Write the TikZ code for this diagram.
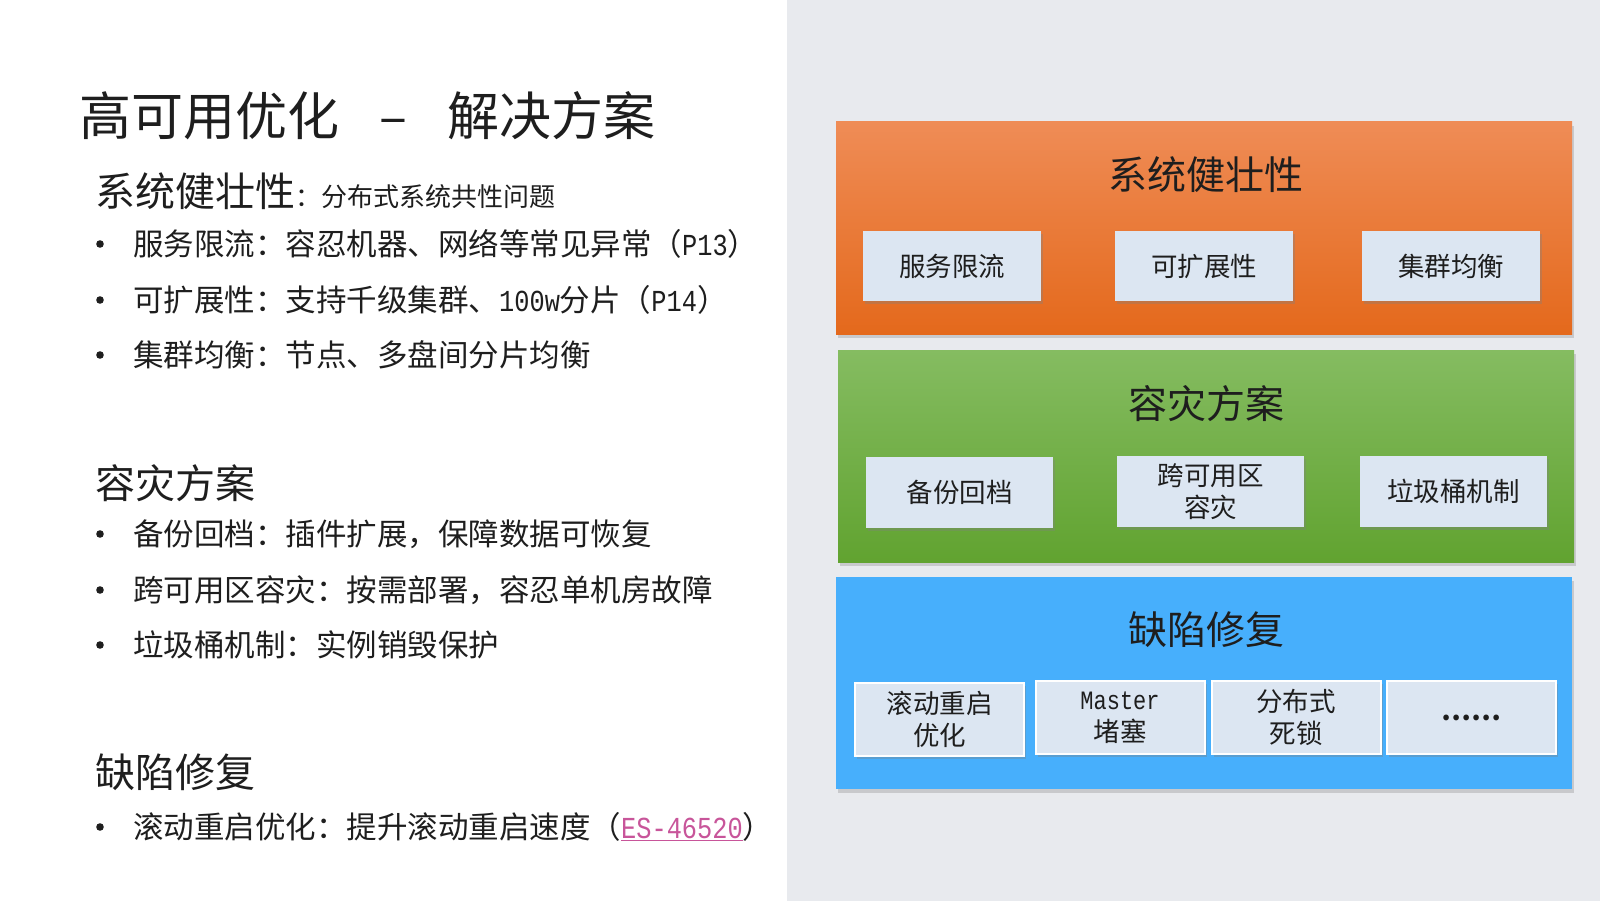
\documentclass[tikz,border=0pt]{standalone}
\usepackage{fontspec}
\setmainfont{Noto Sans CJK SC}
\newfontfamily\lat[FakeStretch=0.83]{Liberation Mono}
\usetikzlibrary{shadows}
\definecolor{bgR}{HTML}{E8EAEE}
\definecolor{orT}{HTML}{EF8C56}
\definecolor{orB}{HTML}{E4691C}
\definecolor{grT}{HTML}{85BC61}
\definecolor{grB}{HTML}{61A330}
\definecolor{blu}{HTML}{47AFFC}
\definecolor{boxF}{HTML}{DCE6F2}
\definecolor{txt}{HTML}{1E1E1E}
\definecolor{lnk}{HTML}{C8559A}
\tikzset{
  panel/.style={draw=none, minimum width=736pt, minimum height=212pt, inner sep=0pt,
    drop shadow={opacity=0.3, shadow xshift=2pt, shadow yshift=-4pt}},
  ptitle/.style={text=txt, font=\fontsize{39}{44}\selectfont, inner sep=0pt},
  sbox/.style={fill=boxF, inner sep=0pt, align=center, text=txt,
    font=\fontsize{26.5}{32}\selectfont,
    drop shadow={opacity=0.35, shadow xshift=2pt, shadow yshift=-3pt}},
  wbox/.style={sbox, draw=white, line width=2pt},
  head/.style={anchor=west, inner sep=0pt, text=txt, font=\fontsize{40}{48}\selectfont},
  item/.style={anchor=west, inner sep=0pt, text=txt, font=\fontsize{30.5}{36}\selectfont},
  bul/.style={fill=txt, draw=none}
}
\begin{document}
\begin{tikzpicture}[x=1pt,y=-1pt]
\useasboundingbox (0,0) rectangle (1600,901);
\fill[white] (0,0) rectangle (787,901);
\fill[bgR] (787,0) rectangle (1600,901);

% left text
\node[anchor=west, inner sep=0pt, text=txt, font=\fontsize{52}{60}\selectfont] (title) at (79,116)
  {高可用优化\hspace{40pt}–\hspace{40pt}解决方案};

\node[head] (h1) at (95,191) {系统健壮性{\fontsize{26}{30}\selectfont ：分布式系统共性问题}};
\node[item] (b1) at (133,244) {服务限流：容忍机器、网络等常见异常（{\lat P13}）};
\node[item] (b2) at (133,300) {可扩展性：支持千级集群、{\lat 100w}分片（{\lat P14}）};
\node[item] (b3) at (133,355) {集群均衡：节点、多盘间分片均衡};

\node[head] (h2) at (95,483) {容灾方案};
\node[item] (b4) at (133,534) {备份回档：插件扩展，保障数据可恢复};
\node[item] (b5) at (133,590) {跨可用区容灾：按需部署，容忍单机房故障};
\node[item] (b6) at (133,645) {垃圾桶机制：实例销毁保护};

\node[head] (h3) at (95,772) {缺陷修复};
\node[item] (b7) at (133,827) {滚动重启优化：提升滚动重启速度（\textcolor{lnk}{\underline{\lat ES-46520}}）};

\foreach \yy in {244,300,355,534,590,645,827}
  \fill[bul] (100,\yy) circle (3.8);

% right panels
\node[panel, top color=orT, bottom color=orB] (p1) at (1204,228) {};
\node[panel, top color=grT, bottom color=grB] (p2) at (1206,456) {};
\node[panel, fill=blu] (p3) at (1204,683) {};

\node[ptitle] (t1) at (1206,175) {系统健壮性};
\node[ptitle] (t2) at (1206,404) {容灾方案};
\node[ptitle] (t3) at (1206,630) {缺陷修复};

\node[sbox, minimum width=178pt, minimum height=70pt] (s11) at (952,266) {服务限流};
\node[sbox, minimum width=178pt, minimum height=70pt] (s12) at (1204,266) {可扩展性};
\node[sbox, minimum width=178pt, minimum height=70pt] (s13) at (1451,266) {集群均衡};

\node[sbox, minimum width=187pt, minimum height=71pt] (s21) at (959.5,492.5) {备份回档};
\node[sbox, minimum width=187pt, minimum height=71pt] (s22) at (1210.5,491.5) {跨可用区\\容灾};
\node[sbox, minimum width=187pt, minimum height=71pt] (s23) at (1453.5,491.5) {垃圾桶机制};

\node[wbox, minimum width=169pt, minimum height=73pt] (s31) at (939.5,719.5) {滚动重启\\优化};
\node[wbox, minimum width=169pt, minimum height=73pt] (s32) at (1120,717.5) {{\lat Master}\\堵塞};
\node[wbox, minimum width=169pt, minimum height=73pt] (s33) at (1296,717.5) {分布式\\死锁};
\node[wbox, minimum width=169pt, minimum height=73pt, font=\fontsize{26.5}{32}\selectfont\bfseries] (s34) at (1471.5,717.5) {……};
\end{tikzpicture}
\end{document}
